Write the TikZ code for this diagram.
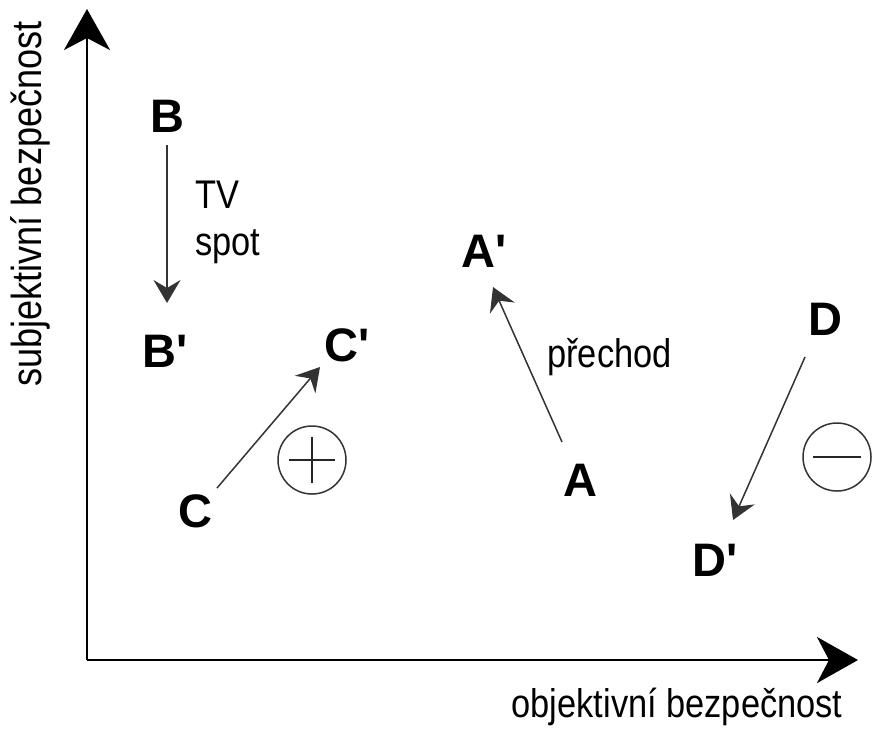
\documentclass[tikz,border=0pt]{standalone}
\usepackage{fontspec}
\setmainfont{Liberation Sans}
\newfontfamily\narrowfont[FakeStretch=0.86]{Liberation Sans}
\newfontfamily\letterfont{Liberation Sans}
\usetikzlibrary{arrows.meta,calc}
\begin{document}
\begin{tikzpicture}[x=0.5pt,y=-0.5pt,
  letter/.style={inner sep=0pt,font=\letterfont\fontsize{23.5}{27}\selectfont\bfseries},
  lbl/.style={inner sep=0pt,font=\narrowfont\fontsize{20}{24}\selectfont},
  ylbl/.style={inner sep=0pt,font=\narrowfont\fontsize{21}{24}\selectfont},
  axis/.style={line width=1.3pt,-{Stealth[length=20.5pt,width=23pt,inset=6pt]}},
  arr/.style={line width=0.75pt,draw=black!80,-{Stealth[length=11.5pt,width=13.5pt,inset=4pt]}},
  sign/.style={circle,draw=black!80,line width=0.75pt,minimum size=34pt,inner sep=0pt},
  signline/.style={line width=0.75pt,draw=black!85}]
\useasboundingbox (0,0) rectangle (881,736);
% axes
\coordinate (O) at (87,660);
\coordinate (ytip) at (87,9);
\coordinate (xtip) at (858,660);
\draw[axis] (O) -- (ytip);
\draw[axis] (O) -- (xtip);
\node[lbl,anchor=base] (xl) at (677,717) {objektivní bezpečnost};
\node[ylbl,anchor=base,rotate=90] (yl) at (41,204) {subjektivní bezpečnost};
% letters
\node[letter] (B) at (167,116) {B};
\node[letter] (Bp) at (165,351) {B'};
\node[letter] (C) at (195,511) {C};
\node[letter] (Cp) at (347,345) {C'};
\node[letter] (A) at (580,480) {A};
\node[letter] (Ap) at (484,251) {A'};
\node[letter] (D) at (825,319) {D};
\node[letter] (Dp) at (715,560) {D'};
% labels
\node[lbl,anchor=base west] (tv) at (195,208) {TV};
\node[lbl,anchor=base west] (spot) at (195,255) {spot};
\node[lbl,anchor=base west] (prechod) at (547,367) {přechod};
% arrows
\draw[arr] ($(B)+(0,29)$) -- ($(Bp)+(2,-48)$);
\draw[arr] ($(C)+(22,-23)$) -- ($(Cp)+(-27,22)$);
\draw[arr] ($(A)+(-18,-38)$) -- ($(Ap)+(9,36)$);
\draw[arr] ($(D)+(-20,38)$) -- ($(Dp)+(18,-40)$);
% plus / minus
\node[sign] (plus) at (312,460) {};
\draw[signline] ($(plus)+(-23,0)$) -- ($(plus)+(23,0)$);
\draw[signline] ($(plus)+(0,-23)$) -- ($(plus)+(0,23)$);
\node[sign] (minus) at (837,457) {};
\draw[signline] ($(minus)+(-24,0)$) -- ($(minus)+(24,0)$);
\end{tikzpicture}
\end{document}
